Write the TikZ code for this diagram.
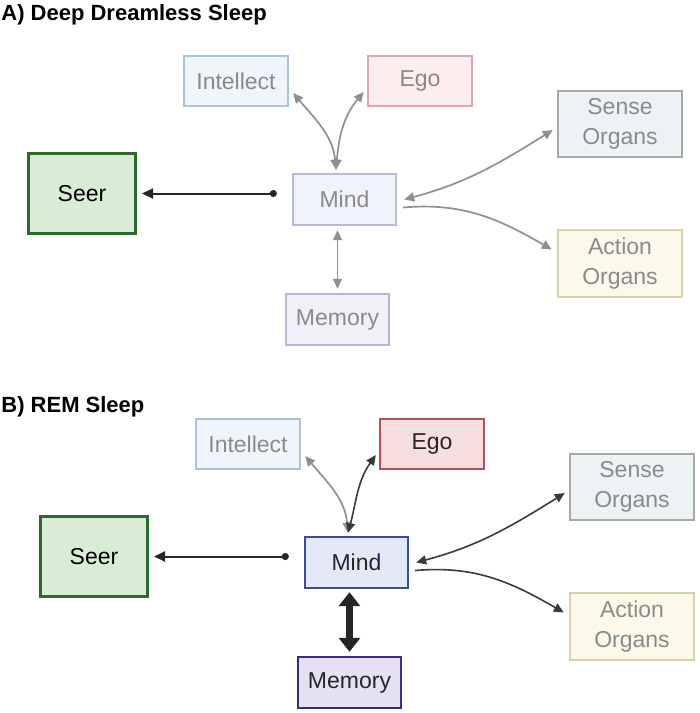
\documentclass[tikz,border=0pt]{standalone}
\usepackage{fontspec}
\setmainfont{Liberation Sans}
\usetikzlibrary{arrows.meta,calc}
\definecolor{seerfill}{HTML}{D9ECD5}
\definecolor{seerline}{HTML}{2E6A30}
\definecolor{intfill}{HTML}{EEF5FB}
\definecolor{intline}{HTML}{A9C4DA}
\definecolor{egofillA}{HTML}{FCEDEF}
\definecolor{egolineA}{HTML}{DCA7AE}
\definecolor{egofillB}{HTML}{F6DEDE}
\definecolor{egolineB}{HTML}{B3505B}
\definecolor{sensefill}{HTML}{EDF2F4}
\definecolor{senseline}{HTML}{A6ABAA}
\definecolor{actfill}{HTML}{FBF9EA}
\definecolor{actline}{HTML}{D9D1A9}
\definecolor{mindfillA}{HTML}{F1F3FB}
\definecolor{mindlineA}{HTML}{B8BADC}
\definecolor{mindfillB}{HTML}{E4E9F7}
\definecolor{mindlineB}{HTML}{3C4C96}
\definecolor{memfillA}{HTML}{F1EFF8}
\definecolor{memlineA}{HTML}{BAB4D6}
\definecolor{memfillB}{HTML}{E6E1F2}
\definecolor{memlineB}{HTML}{3D2B7A}
\definecolor{fadetext}{HTML}{8A8A8A}
\definecolor{fadearrow}{HTML}{909090}
\definecolor{darkarrow}{HTML}{3A3A3A}
\tikzset{
box/.style={draw,line width=1.2pt,inner sep=0pt,align=center,font=\fontsize{11.5}{15}\selectfont},
seerbox/.style={box,fill=seerfill,draw=seerline,line width=1.5pt,minimum width=53.5pt,minimum height=40pt},
intbox/.style={box,fill=intfill,draw=intline,text=fadetext,minimum width=52pt,minimum height=25pt},
egofaint/.style={box,fill=egofillA,draw=egolineA,text=fadetext,minimum width=52pt,minimum height=25pt},
egobold/.style={box,fill=egofillB,draw=egolineB,text=black!85,minimum width=52pt,minimum height=25pt},
sensebox/.style={box,fill=sensefill,draw=senseline,text=fadetext,minimum width=62pt,minimum height=33pt},
actbox/.style={box,fill=actfill,draw=actline,text=fadetext,minimum width=62pt,minimum height=33.5pt},
mindfaint/.style={box,fill=mindfillA,draw=mindlineA,text=fadetext,minimum width=51.5pt,minimum height=25.5pt},
mindbold/.style={box,fill=mindfillB,draw=mindlineB,text=black!85,minimum width=51.5pt,minimum height=25.5pt},
memfaint/.style={box,fill=memfillA,draw=memlineA,text=fadetext,minimum width=51.5pt,minimum height=25.5pt},
membold/.style={box,fill=memfillB,draw=memlineB,text=black!85,minimum width=51.5pt,minimum height=25.5pt},
title/.style={anchor=base west,inner sep=0pt,font=\fontsize{11}{13}\selectfont\bfseries},
greyline/.style={draw=fadearrow,line width=0.85pt},
darkline/.style={draw=darkarrow,line width=0.8pt},
seerlink/.style={{Circle[length=3.5pt]}-{Triangle[length=5.5pt,width=5pt]},draw=black!85,line width=1pt},
memlink/.style={{Triangle[length=7pt,width=10.5pt]}-{Triangle[length=7pt,width=10.5pt]},draw=black!85,line width=3.5pt}
}

\begin{document}
\begin{tikzpicture}[x=0.5pt,y=0.5pt,>={Triangle[length=5pt,width=4.5pt]}]
\useasboundingbox (0,0) rectangle (700,-713);
\node[title] (ta) at (1,-20) {A) Deep Dreamless Sleep};
\node[title] (tb) at (1,-412) {B) REM Sleep};

\begin{scope}
\node[seerbox] (a-seer) at (82,-193.5) {Seer};
\node[intbox] (a-intellect) at (236,-81) {Intellect};
\node[egofaint] (a-ego) at (420,-81) {Ego};
\node[sensebox] (a-sense) at (620,-124) {Sense\\Organs};
\node[mindfaint] (a-mind) at (344.5,-199.5) {Mind};
\node[actbox] (a-action) at (620,-263.5) {Action\\Organs};
\node[memfaint] (a-memory) at (337.5,-319.5) {Memory};
\coordinate (a-top) at ($(a-mind.north)+(-8.5,3)$);
\draw[seerlink] ($(a-mind.west |- a-seer)+(-15,0)$) -- ($(a-seer.east)+(5,0)$);
\draw[greyline,<->] ([shift={(2pt,-6pt)}]a-intellect.east) to[out=-50,in=95] (a-top);
\draw[greyline,<->] (a-top) to[out=85,in=230] ([shift={(-1.5pt,-5.5pt)}]a-ego.west);
\draw[greyline,<->] ([xshift=3.5pt]a-mind.east) to[out=15,in=212] ([shift={(-2pt,-3pt)}]a-sense.west);
\draw[greyline,->] ([shift={(3pt,-4pt)}]a-mind.east) to[out=5,in=150] ([shift={(-2.5pt,7pt)}]a-action.west);
\draw[greyline,<->] ($(a-mind.south -| a-memory.north)+(0,-4)$) -- ($(a-memory.north)+(0,4)$);
\end{scope}

\begin{scope}[shift={(12,-363)}]
\node[seerbox] (b-seer) at (82,-193.5) {Seer};
\node[intbox] (b-intellect) at (236,-81) {Intellect};
\node[egobold] (b-ego) at (420,-81) {Ego};
\node[sensebox] (b-sense) at (620,-124) {Sense\\Organs};
\node[mindbold] (b-mind) at (344.5,-199.5) {Mind};
\node[actbox] (b-action) at (620,-263.5) {Action\\Organs};
\node[membold] (b-memory) at (337.5,-319.5) {Memory};
\coordinate (b-top) at ($(b-mind.north)+(-8.5,3)$);
\draw[seerlink] ($(b-mind.west |- b-seer)+(-15,0)$) -- ($(b-seer.east)+(5,0)$);
\draw[greyline,<->] ([shift={(2pt,-6pt)}]b-intellect.east) to[out=-50,in=95] (b-top);
\draw[darkline,<->] (b-top) to[out=75,in=235] ([shift={(-1.5pt,-5.5pt)}]b-ego.west);
\draw[darkline,<->] ([xshift=3.5pt]b-mind.east) to[out=15,in=212] ([shift={(-2pt,-3pt)}]b-sense.west);
\draw[darkline,->] ([shift={(3pt,-4pt)}]b-mind.east) to[out=5,in=150] ([shift={(-2.5pt,7pt)}]b-action.west);
\draw[memlink] ($(b-mind.south -| b-memory.north)+(0,-3)$) -- ($(b-memory.north)+(0,4)$);
\end{scope}
\end{tikzpicture}
\end{document}
